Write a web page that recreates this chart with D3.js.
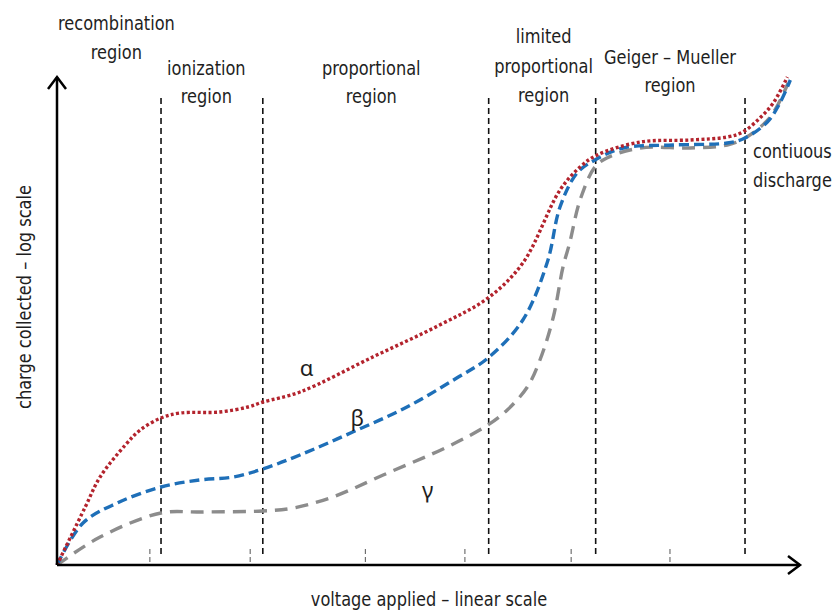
<!DOCTYPE html>
<html>
<head>
<meta charset="utf-8">
<script src="https://cdn.jsdelivr.net/npm/d3@7"></script>
<style>
  body { margin: 0; background: #fff; }
  text { font-family: "DejaVu Sans Condensed", "Liberation Sans Narrow", "Roboto", sans-serif; font-stretch: condensed; fill: #1e1e1e; }
</style>
</head>
<body>
<script>
// voltage (0-100, linear) and charge (0-100, arbitrary log units)
var alphaV = [0, 3.8, 5.8, 9.2, 11.2, 14, 16.6, 21.9, 25.7, 27.7, 32.7, 42.5, 51.5, 58, 62.7, 67.7, 70.4, 72.7, 78.5, 85.2, 90.2, 92.3, 94.6, 96.4, 98.3];
var alphaQ = [0, 11.6, 17.6, 24, 27, 29.4, 30.4, 30.6, 31.6, 32.6, 34.6, 41.6, 48, 53.4, 60.4, 75, 79.6, 82, 84.6, 85, 85.6, 86.6, 89.4, 92.4, 97.6];

var betaV = [0, 3.5, 8.1, 14, 19.2, 23.7, 27.7, 32.7, 39.8, 47.1, 53.8, 58, 62.7, 66, 67.7, 70, 72.4, 76.2, 82.9, 90.2, 92.6, 95.6, 97.3, 98.7];
var betaQ = [0, 8.4, 12.4, 15.6, 17, 17.6, 19.2, 22, 26.6, 31.6, 37.4, 41.4, 49, 60.6, 71.6, 78.4, 81, 83.4, 84, 84.4, 85.4, 88.6, 92.4, 97];

var gammaV = [0, 5.8, 14, 19.2, 27.7, 31.8, 37.1, 43.9, 52.5, 58, 60.6, 63.3, 65, 66.8, 68.1, 69, 70.4, 72.4, 74, 78.5, 85.2, 90.2, 92.6, 96, 98.4];
var gammaQ = [0, 5.6, 10.4, 10.6, 10.8, 11.4, 13.6, 18, 23.6, 28, 31, 35.6, 41, 49.6, 59.6, 64.4, 73, 79.6, 81.4, 83.4, 83.4, 84, 85.4, 89.6, 96.4];

// region boundaries and small axis ticks (voltage)
var boundaries = [14, 27.7, 58.1, 72.5, 92.6];
var ticks = [12.5, 26, 41.5, 54.9, 69.2, 82.5];

// region labels: lines, centre voltage, baseline of each line (px)
var regionLines = [["recombination", "region"], ["ionization", "region"], ["proportional", "region"],
                   ["limited", "proportional", "region"], ["Geiger \u2013 Mueller", "region"]];
var regionX = [8.0, 20.1, 42.3, 65.5, 82.5];
var regionBase = [[30, 59], [75, 103], [75, 103], [43, 73, 102], [64, 92]];

var svg = d3.select("body").append("svg").attr("width", 834).attr("height", 612);

var x = d3.scaleLinear().domain([0, 100]).range([57, 800]);
var y = d3.scaleLinear().domain([0, 100]).range([565, 65]);

// vertical region dividers
svg.selectAll(".bound").data(boundaries).enter().append("line")
  .attr("x1", d => x(d)).attr("x2", d => x(d))
  .attr("y1", 98).attr("y2", 556)
  .attr("stroke", "#111").attr("stroke-width", 1.6).attr("stroke-dasharray", "6,4");

// little dashed ticks on x axis
svg.selectAll(".tick").data(ticks).enter().append("line")
  .attr("x1", d => x(d)).attr("x2", d => x(d))
  .attr("y1", 549).attr("y2", 565)
  .attr("stroke", "#555").attr("stroke-width", 1).attr("stroke-dasharray", "5,3");

// curves
var line = d3.line().x(d => x(d[0])).y(d => y(d[1])).curve(d3.curveCatmullRom.alpha(0.5));
var series = [
  { v: gammaV, q: gammaQ, color: "#8c8c8c", dash: "13,8" },
  { v: betaV, q: betaQ, color: "#1e6fb8", dash: "10,5" },
  { v: alphaV, q: alphaQ, color: "#b3232d", dash: "3,2.4" }
];
series.forEach(function(s) {
  svg.append("path")
    .datum(d3.zip(s.v, s.q))
    .attr("d", line)
    .attr("fill", "none")
    .attr("stroke", s.color)
    .attr("stroke-width", 3.4)
    .attr("stroke-dasharray", s.dash);
});

// axes with arrows
svg.append("line").attr("x1", x(0)).attr("y1", y(0)).attr("x2", 800).attr("y2", y(0))
  .attr("stroke", "#000").attr("stroke-width", 2.5);
svg.append("line").attr("x1", x(0)).attr("y1", y(0)).attr("x2", x(0)).attr("y2", 77)
  .attr("stroke", "#000").attr("stroke-width", 2.5);
svg.append("path").attr("d", "M788,556 L800,565 L788,574")
  .attr("fill", "none").attr("stroke", "#000").attr("stroke-width", 2.5);
svg.append("path").attr("d", "M48,89 L57,77 L66,89")
  .attr("fill", "none").attr("stroke", "#000").attr("stroke-width", 2.5);

// narrow tall text: draw at 20px, squeeze horizontally
function label(cx, cy, lines, bases, anchor) {
  var g = svg.append("g").attr("transform", "translate(" + cx + ",0) scale(0.9,1)");
  var t = g.append("text").attr("text-anchor", anchor).attr("font-size", 20);
  lines.forEach(function(l, j) {
    t.append("tspan").attr("x", 0).attr("y", bases[j]).text(l);
  });
}
regionLines.forEach(function(lines, i) {
  label(x(regionX[i]), 0, lines, regionBase[i], "middle");
});
label(753, 0, ["contiuous", "discharge"], [158, 187], "start");

// greek labels
var greek = [["\u03b1", 33.6, 39.4], ["\u03b2", 40.4, 29.4], ["\u03b3", 49.9, 15]];
greek.forEach(function(g) {
  svg.append("text").attr("x", x(g[1])).attr("y", y(g[2]) + 8)
    .attr("text-anchor", "middle").attr("font-size", 22)
    .style("font-family", "'Noto Sans', sans-serif").text(g[0]);
});

// axis titles
svg.append("g").attr("transform", "translate(429,0) scale(0.9,1)")
  .append("text").attr("x", 0).attr("y", 606).attr("text-anchor", "middle").attr("font-size", 20)
  .text("voltage applied \u2013 linear scale");
svg.append("g").attr("transform", "translate(31,297) rotate(-90) scale(0.9,1)")
  .append("text").attr("text-anchor", "middle").attr("font-size", 20)
  .text("charge collected \u2013 log scale");
</script>
</body>
</html>
